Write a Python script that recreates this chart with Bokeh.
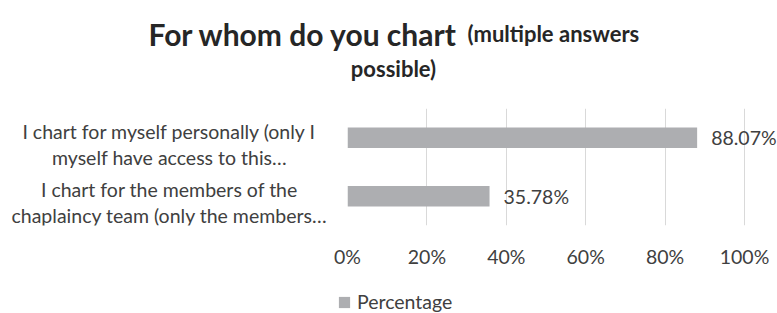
from bokeh.plotting import figure
from bokeh.layouts import column, row
from bokeh.models import (FixedTicker, CustomJSTickFormatter, ColumnDataSource, FactorRange,
                          Range1d, Legend, LegendItem)
from bokeh.core.properties import value
from bokeh.embed import file_html
from bokeh.resources import INLINE

categories = ["I chart for myself personally (only I myself have access to this…",
              "I chart for the members of the chaplaincy team (only the members…"]
category_lines = [["I chart for myself personally (only I", "myself have access to this…"],
                  ["I chart for the members of the", "chaplaincy team (only the members…"]]
values = [0.8807, 0.3578]
value_labels = ["88.07%", "35.78%"]
ticks = [0, 0.2, 0.4, 0.6, 0.8, 1.0]
series_name = "Percentage"
title_main = "For whom do you chart"
title_sub1 = "(multiple answers"
title_sub2 = "possible)"

FONT = "Lato"
TXT = "#404040"
TITLE_C = "#262626"
BAR = "#ADAEB1"
FS = "19.5px"

W = 777
TITLE_H = 98
MID_H = 172
LEG_H = 313 - TITLE_H - MID_H
LABEL_W = 327
MAIN_W = W - LABEL_W
TOP_B, BOT_B = 10, 43

def blank(fig):
    fig.axis.visible = False
    fig.grid.grid_line_color = None
    fig.outline_line_color = None
    fig.background_fill_color = "white"
    fig.border_fill_color = "white"
    fig.min_border = 0

# ---- title
tf = figure(width=W, height=TITLE_H, output_backend="svg", toolbar_location=None,
            x_range=Range1d(0, W), y_range=Range1d(TITLE_H, 0))
blank(tf)
tf.text(x=[148], y=[33], text=[title_main], text_font=value(FONT), text_font_style="bold",
        text_font_size="30px", text_color=TITLE_C, text_baseline="alphabetic")
tf.text(x=[467], y=[33], text=[title_sub1], text_font=value(FONT), text_font_style="bold",
        text_font_size="22px", text_color=TITLE_C, text_baseline="alphabetic")
tf.text(x=[393], y=[68], text=[title_sub2], text_font=value(FONT), text_font_style="bold",
        text_font_size="22px", text_color=TITLE_C, text_baseline="alphabetic", text_align="center")

yr = FactorRange(factors=list(reversed(categories)))

# ---- category labels
lf = figure(width=LABEL_W, height=MID_H, output_backend="svg", toolbar_location=None,
            x_range=Range1d(0, LABEL_W), y_range=yr)
blank(lf)
lf.min_border_top = TOP_B
lf.min_border_bottom = BOT_B
lab_cat, lab_txt, lab_off = [], [], []
for c, lines in zip(categories, category_lines):
    for j, t in enumerate(lines):
        lab_cat.append(c)
        lab_txt.append(t)
        lab_off.append(-6.5 + 26 * j)
lf.text(x=169, y="cat", text="txt", y_offset="off",
        source=ColumnDataSource(dict(cat=lab_cat, txt=lab_txt, off=lab_off)),
        text_align="center", text_baseline="alphabetic", text_font=value(FONT),
        text_font_size=FS, text_color=TXT)

# ---- main bars
p = figure(width=MAIN_W, height=MID_H, output_backend="svg", toolbar_location=None,
           y_range=yr, x_range=Range1d(0, 430 / 397),
           min_border_left=20, min_border_right=0, min_border_top=TOP_B, min_border_bottom=BOT_B)
p.outline_line_color = None
p.background_fill_color = "white"
p.border_fill_color = "white"

src = ColumnDataSource(dict(cat=categories, val=values, lab=value_labels))
p.hbar(y="cat", right="val", height=0.35, source=src, color=BAR, line_color=None)

p.yaxis.visible = False
p.ygrid.grid_line_color = None
p.xgrid.grid_line_color = "#D9D9D9"
p.xgrid.ticker = FixedTicker(ticks=ticks)
p.xaxis.ticker = FixedTicker(ticks=ticks)
p.xaxis.formatter = CustomJSTickFormatter(code="return Math.round(tick*100) + '%';")
p.xaxis.axis_line_color = None
p.xaxis.major_tick_line_color = None
p.xaxis.major_tick_out = 0
p.xaxis.minor_tick_line_color = None
p.xaxis.major_label_text_font = FONT
p.xaxis.major_label_text_font_size = FS
p.xaxis.major_label_text_color = TXT
p.xaxis.major_label_standoff = 19

p.text(x="val", y="cat", text="lab", source=src, x_offset=14, text_baseline="middle",
       text_font=value(FONT), text_font_size=FS, text_color=TXT)

# ---- legend (proxy renderer on the same data, kept outside the visible x range)
gf = figure(width=W, height=LEG_H, output_backend="svg", toolbar_location=None,
            x_range=Range1d(-2, -1), y_range=yr)
blank(gf)
lr = gf.hbar(y="cat", right="val", height=0.35, source=src, color=BAR, line_color=None)
legend = Legend(items=[LegendItem(label=series_name, renderers=[lr])],
                location=(337, 0), orientation="horizontal",
                glyph_width=14, glyph_height=14, label_standoff=6, padding=0, margin=0,
                border_line_color=None, background_fill_alpha=0,
                label_text_font=FONT, label_text_font_size=FS, label_text_color=TXT)
gf.add_layout(legend)

layout = column(tf, row(lf, p), gf)
open("out.html", "w").write(file_html(layout, INLINE))
